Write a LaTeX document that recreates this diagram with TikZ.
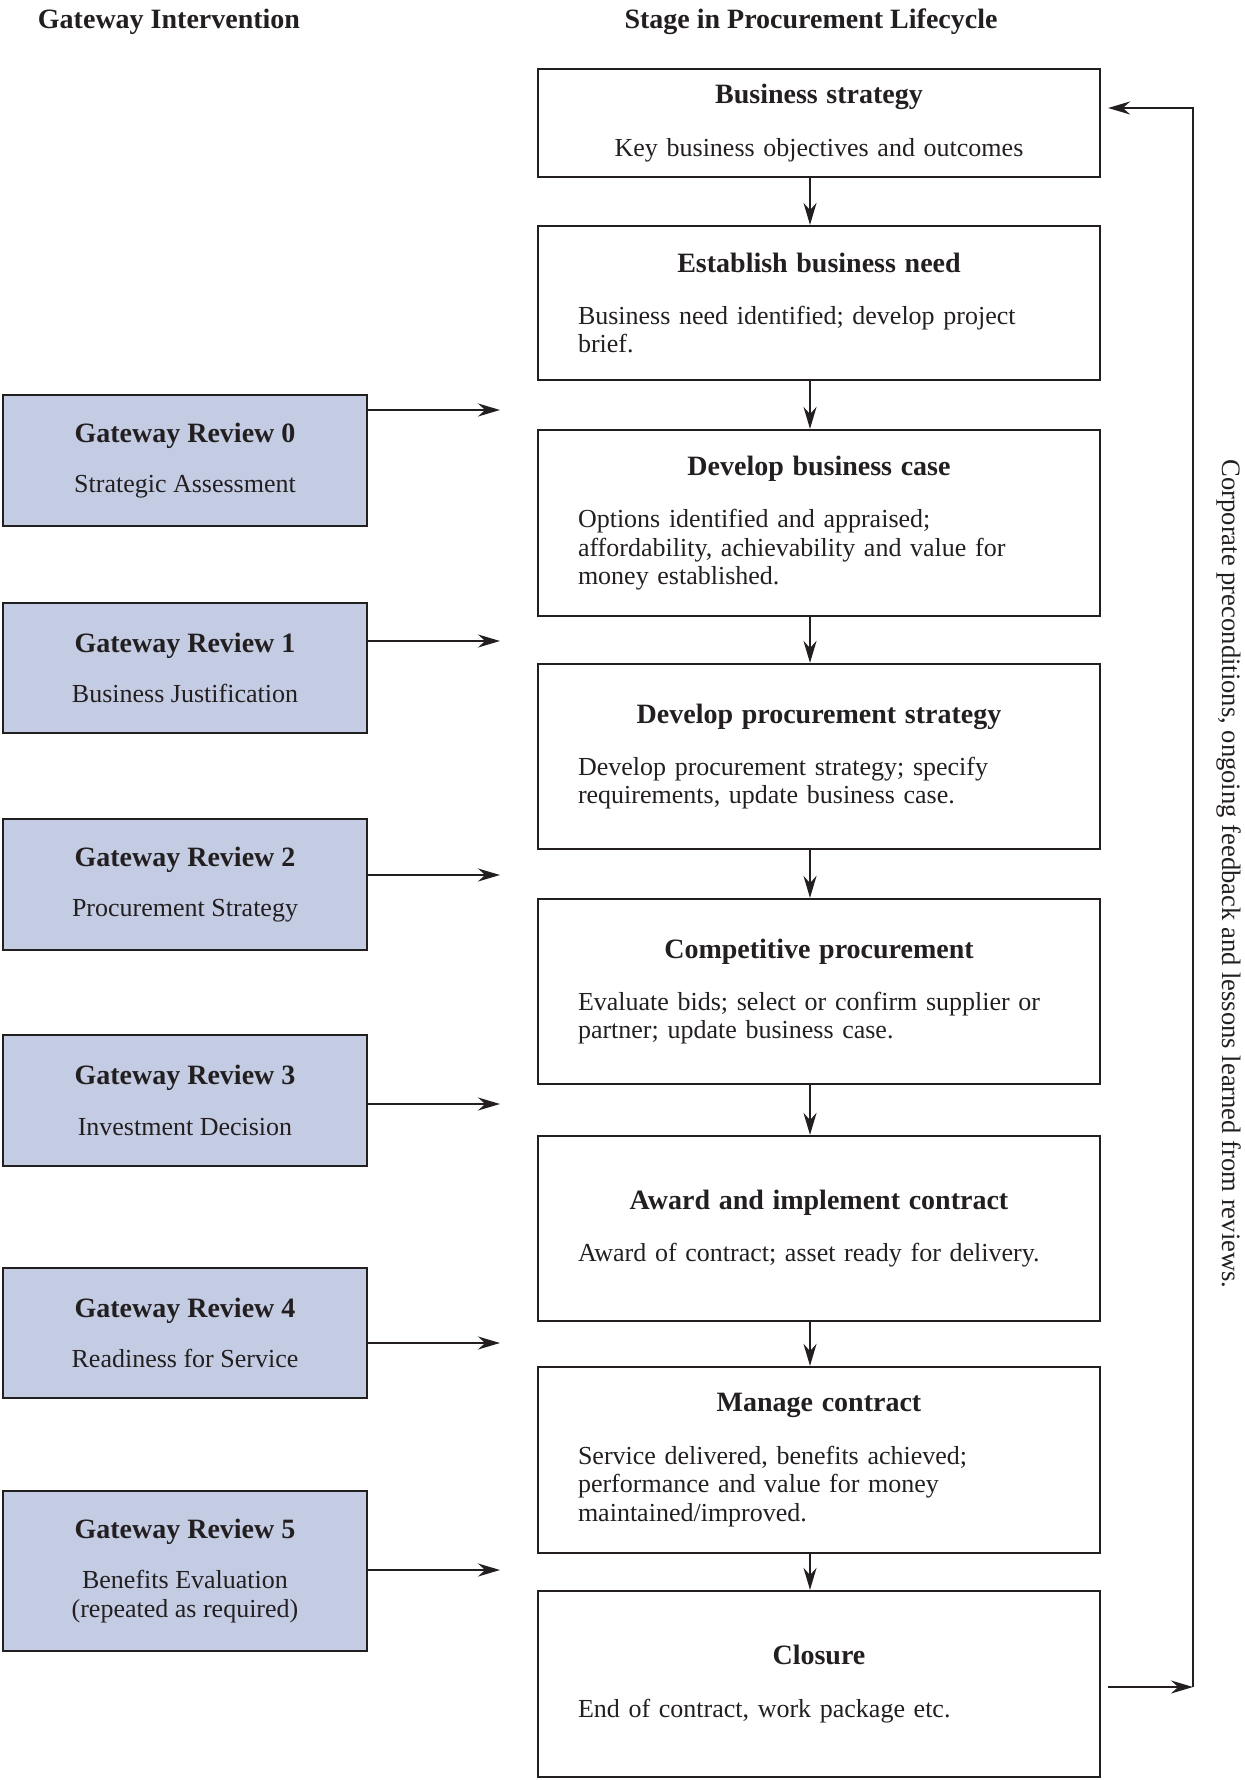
\documentclass[tikz,border=0pt]{standalone}
\usepackage{fontspec}
\setmainfont{Liberation Serif}
\usepackage{xcolor}
\usetikzlibrary{arrows.meta, positioning, calc}
\definecolor{gatefill}{RGB}{196,204,228}
\definecolor{inkclr}{RGB}{35,31,32}

\newcommand{\titlefont}{\fontsize{14}{15.5}\selectfont\bfseries}
\newcommand{\stagetext}[2]{{\centering\titlefont #1\par}\vspace{12pt}#2}

\begin{document}
\begin{tikzpicture}[x=0.5pt, y=-0.5pt,
    every node/.style={font=\fontsize{13}{14.2}\selectfont, text=inkclr},
    stage/.style={rectangle, draw=inkclr, line width=1.1pt, text width=241pt, inner xsep=20pt, align=left},
    gate/.style={rectangle, draw=inkclr, fill=gatefill, line width=1.1pt, minimum width=182pt, align=center},
    arr/.style={draw=inkclr, line width=1.1pt, -{Stealth[length=11pt, width=6.5pt]}},
    head/.style={font=\titlefont}]
    \useasboundingbox (0,0) rectangle (1244,1780);

    % column headings
    \node[head] (hgate) at (169,22) {Gateway Intervention};
    \node[head] (hstage) at (811,22) {Stage in Procurement Lifecycle};

    % lifecycle stages
    \node[stage, minimum height=54pt] (s1) at (819,123)
        {\stagetext{Business strategy}{{\centering Key business objectives and outcomes\par}}};
    \node[stage, minimum height=77pt] (s2) at (819,303)
        {\stagetext{Establish business need}{Business need identified; develop project\\ brief.}};
    \node[stage, minimum height=93pt] (s3) at (819,523)
        {\stagetext{Develop business case}{Options identified and appraised;\\ affordability, achievability and value for\\ money established.}};
    \node[stage, minimum height=92.5pt] (s4) at (819,756.5)
        {\stagetext{Develop procurement strategy}{Develop procurement strategy; specify\\ requirements, update business case.}};
    \node[stage, minimum height=92.5pt] (s5) at (819,991.5)
        {\stagetext{Competitive procurement}{Evaluate bids; select or confirm supplier or\\ partner; update business case.}};
    \node[stage, minimum height=92.5pt] (s6) at (819,1228.5)
        {\stagetext{Award and implement contract}{Award of contract; asset ready for delivery.}};
    \node[stage, minimum height=93pt] (s7) at (819,1460)
        {\stagetext{Manage contract}{Service delivered, benefits achieved;\\ performance and value for money\\ maintained/improved.}};
    \node[stage, minimum height=93pt] (s8) at (819,1684)
        {\stagetext{Closure}{End of contract, work package etc.}};

    % gateway reviews
    \node[gate, minimum height=65.5pt] (g0) at (185,460.5) {{\titlefont Gateway Review 0}\\[11pt] Strategic Assessment};
    \node[gate, minimum height=65pt] (g1) at (185,668) {{\titlefont Gateway Review 1}\\[11pt] Business Justification};
    \node[gate, minimum height=65.5pt] (g2) at (185,884.5) {{\titlefont Gateway Review 2}\\[11pt] Procurement Strategy};
    \node[gate, minimum height=65.5pt] (g3) at (185,1100.5) {{\titlefont Gateway Review 3}\\[11pt] Investment Decision};
    \node[gate, minimum height=65pt] (g4) at (185,1333) {{\titlefont Gateway Review 4}\\[11pt] Readiness for Service};
    \node[gate, minimum height=80pt] (g5) at (185,1571) {{\titlefont Gateway Review 5}\\[11pt] Benefits Evaluation\\ (repeated as required)};

    % feedback note
    \node[rotate=-90, font=\fontsize{13.3}{15}\selectfont] (lessons) at (1229,874)
        {Corporate preconditions, ongoing feedback and lessons learned from reviews.};

    % arrows down the lifecycle
    \coordinate (spine) at (810,0);
    \foreach \a/\b in {s1/s2, s2/s3, s3/s4, s4/s5, s5/s6, s6/s7, s7/s8}
        \draw[arr] (\a.south -| spine) -- (\b.north -| spine);

    % arrows from the reviews
    \foreach \g/\y in {g0/410, g1/641, g2/875, g3/1104, g4/1343, g5/1570} {
        \coordinate (t\g) at (500,\y);
        \draw[arr] (\g.east |- t\g) -- (t\g);
    }

    % feedback loop
    \coordinate (fbbot) at (1193,1687);
    \coordinate (fbtop) at (1193,108);
    \draw[arr] ($(s8.east |- fbbot)+(7,0)$) -- (fbbot);
    \draw[arr] (fbbot) -- (fbtop) -- ($(s1.east |- fbtop)+(7,0)$);
\end{tikzpicture}
\end{document}
